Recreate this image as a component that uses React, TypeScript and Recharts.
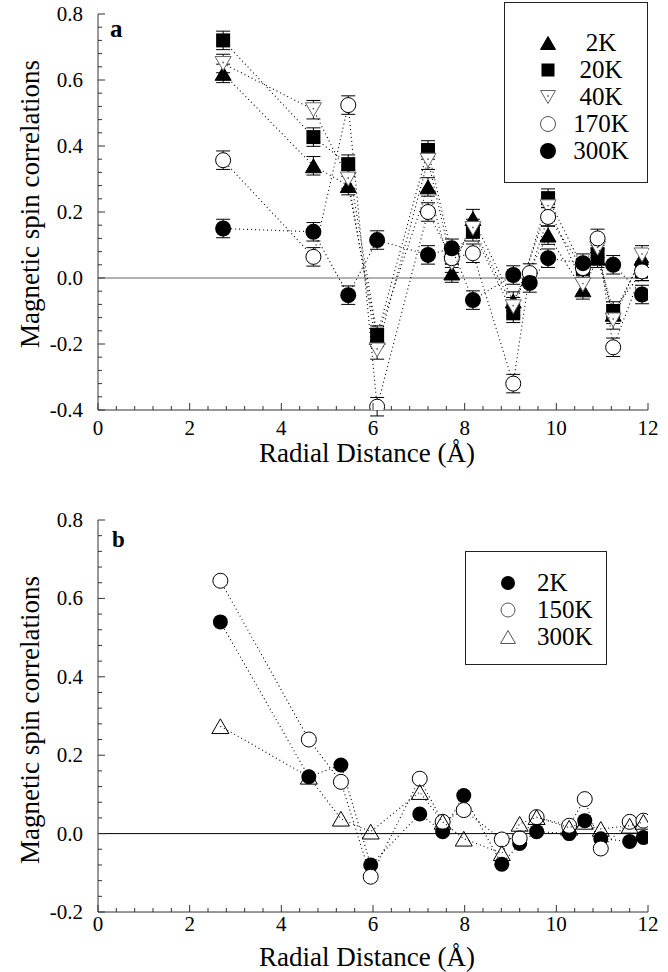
import React from 'react';
import { ScatterChart, Scatter, XAxis, YAxis, ReferenceLine, ErrorBar } from 'recharts';

const FONT = '"Liberation Serif", "Times New Roman", Times, serif';

// ---- tick labels ----
const X_TICKS = [0, 2, 4, 6, 8, 10, 12];
const Y_TICKS_A = [-0.4, -0.2, 0, 0.2, 0.4, 0.6, 0.8];
const Y_TICKS_B = [-0.2, 0, 0.2, 0.4, 0.6, 0.8];
const X_MINOR_STEP = 0.4;
const Y_MINOR_STEP = 0.04;

// ---- panel a data ----
const A_DIST = [2.73, 4.7, 5.46, 6.09, 7.2, 7.72, 8.18, 9.06, 9.42, 9.82, 10.58, 10.9, 11.24, 11.87];
const A_2K = [0.62, 0.34, 0.28, -0.18, 0.276, 0.015, 0.18, -0.07, null, 0.13, -0.036, 0.06, -0.11, 0.06];
const A_20K = [0.72, 0.427, 0.345, -0.173, 0.388, 0.07, 0.14, -0.107, null, 0.242, 0.03, 0.07, -0.1, 0.02];
const A_40K = [0.65, 0.51, 0.3, -0.218, 0.357, 0.045, 0.15, -0.087, null, 0.216, -0.02, 0.09, -0.127, 0.07];
const A_170K = [0.357, 0.064, 0.524, -0.39, 0.2, 0.06, 0.075, -0.32, 0.015, 0.185, 0.03, 0.12, -0.21, 0.02];
const A_300K = [0.15, 0.14, -0.052, 0.115, 0.07, 0.09, -0.067, 0.009, -0.015, 0.06, 0.045, null, 0.04, -0.05];
const A_ERR = 0.028;
const A_NAMES = ['2K', '20K', '40K', '170K', '300K'];

// ---- panel b data ----
const B_DIST = [2.67, 4.6, 5.3, 5.95, 7.02, 7.52, 7.98, 8.81, 9.2, 9.57, 10.28, 10.62, 10.97, 11.6, 11.9];
const B_2K = [0.54, 0.145, 0.175, -0.08, 0.05, 0.005, 0.097, -0.078, -0.025, 0.005, 0.0, 0.033, -0.013, -0.02, -0.01];
const B_150K = [0.645, 0.24, 0.132, -0.11, 0.14, 0.03, 0.06, -0.015, -0.012, 0.042, 0.02, 0.088, -0.038, 0.03, 0.033];
const B_300K = [0.274, 0.145, 0.038, 0.005, 0.106, 0.03, -0.013, -0.05, 0.025, 0.042, 0.015, 0.03, 0.012, 0.02, 0.03];
const B_NAMES = ['2K', '150K', '300K'];

type Kind = 'triUp' | 'square' | 'triDown' | 'circleOpen' | 'circleFilled' | 'triOpen';

function pts(xs: number[], ys: (number | null)[], err?: number) {
  const out: any[] = [];
  xs.forEach((x, i) => {
    const y = ys[i];
    if (y !== null && y !== undefined) out.push({ x, y, err });
  });
  return out;
}

function range(lo: number, hi: number, step: number) {
  const n = Math.round((hi - lo) / step);
  const out: number[] = [];
  for (let i = 0; i <= n; i++) out.push(Math.round((lo + i * step) * 1000) / 1000);
  return out;
}

function isIn(list: number[], v: number) {
  return list.some((m) => Math.abs(m - v) < 1e-6);
}

function Marker({ kind, cx, cy, s, grey }: { kind: Kind; cx: number; cy: number; s: number; grey?: boolean }) {
  const h = s * 0.866;
  const st = grey ? '#555' : '#000';
  switch (kind) {
    case 'triUp':
      return <polygon points={`${cx},${cy - h / 2} ${cx - s / 2},${cy + h / 2} ${cx + s / 2},${cy + h / 2}`} fill="#000" stroke="#000" />;
    case 'triOpen':
      return <polygon points={`${cx},${cy - h / 2} ${cx - s / 2},${cy + h / 2} ${cx + s / 2},${cy + h / 2}`} fill="none" stroke={st} strokeWidth={1} />;
    case 'triDown':
      return (
        <g>
          <polygon points={`${cx},${cy + h / 2} ${cx - s / 2},${cy - h / 2} ${cx + s / 2},${cy - h / 2}`} fill="#fff" stroke="#666" strokeWidth={1} />
          <circle cx={cx} cy={cy - 1} r={0.9} fill="#666" />
        </g>
      );
    case 'square':
      return <rect x={cx - s / 2} y={cy - s / 2} width={s} height={s} fill="#000" />;
    case 'circleOpen':
      return <circle cx={cx} cy={cy} r={s / 2} fill="#fff" stroke={st} strokeWidth={1} />;
    case 'circleFilled':
    default:
      return <circle cx={cx} cy={cy} r={s / 2} fill="#000" />;
  }
}

const shapeOf = (kind: Kind, s: number) => (p: any) => <Marker kind={kind} cx={p.cx} cy={p.cy} s={s} />;

const LINE = { stroke: '#000', strokeWidth: 1.1, strokeDasharray: '1 3' };
const FRAME = '#333';

const xTick = (showLabel: boolean, dir: number, labelDy: number) => (props: any) => {
  const { x, y, payload } = props;
  const v = payload.value;
  const major = isIn(X_TICKS, v);
  const len = major ? 7 : 4;
  return (
    <g>
      <line x1={x} x2={x} y1={y} y2={y + dir * len} stroke={FRAME} strokeWidth={1} />
      {showLabel && major ? (
        <text x={x} y={y + labelDy} textAnchor="middle" fontFamily={FONT} fontSize={21} fill="#000">
          {String(v)}
        </text>
      ) : null}
    </g>
  );
};

const yTick = (majors: number[], showLabel: boolean, dir: number) => (props: any) => {
  const { x, y, payload } = props;
  const v = payload.value;
  const major = isIn(majors, v);
  const len = major ? 7 : 4;
  return (
    <g>
      <line x1={x} x2={x + dir * len} y1={y} y2={y} stroke={FRAME} strokeWidth={1} />
      {showLabel && major ? (
        <text x={x - 15} y={y} dy={7} textAnchor="end" fontFamily={FONT} fontSize={21} fill="#000">
          {v.toFixed(1)}
        </text>
      ) : null}
    </g>
  );
};

const X_ALL = range(0, 12, X_MINOR_STEP);
const Y_ALL_A = range(-0.4, 0.8, Y_MINOR_STEP);
const Y_ALL_B = range(-0.2, 0.8, Y_MINOR_STEP);

function Axes({ yTicksAll, yMajors, yDomain, xLabelDy }: any) {
  return [
    <XAxis key="xb" type="number" dataKey="x" domain={[0, 12]} ticks={X_ALL} interval={0} tickSize={0} tickMargin={0} tickLine={false} axisLine={{ stroke: FRAME }} height={60} tick={xTick(true, -1, xLabelDy)} allowDataOverflow />,
    <XAxis key="xt" xAxisId="top" orientation="top" type="number" domain={[0, 12]} ticks={X_ALL} interval={0} tickSize={0} tickMargin={0} tickLine={false} axisLine={{ stroke: FRAME }} height={0} tick={xTick(false, 1, 0)} allowDataOverflow />,
    <YAxis key="yl" type="number" dataKey="y" domain={yDomain} ticks={yTicksAll} interval={0} tickSize={0} tickMargin={0} tickLine={false} axisLine={{ stroke: FRAME }} width={98} tick={yTick(yMajors, true, 1)} allowDataOverflow />,
    <YAxis key="yr" yAxisId="right" orientation="right" type="number" domain={yDomain} ticks={yTicksAll} interval={0} tickSize={0} tickMargin={0} tickLine={false} axisLine={{ stroke: FRAME }} width={0} tick={yTick(yMajors, false, -1)} allowDataOverflow />,
  ];
}

function LegendIcon({ kind, s }: { kind: Kind; s: number }) {
  return (
    <svg width={22} height={22} style={{ position: 'absolute', left: -11, top: -11, overflow: 'visible' }}>
      <Marker kind={kind} cx={11} cy={11} s={s} grey />
    </svg>
  );
}

function LegendBox({ left, top, width, height, rows, iconX, textX, textCenter }: any) {
  return (
    <div style={{ position: 'absolute', left, top, width, height, border: '1px solid #222', boxSizing: 'border-box', background: '#fff' }}>
      {rows.map((r: any, i: number) => (
        <React.Fragment key={i}>
          <div style={{ position: 'absolute', left: iconX, top: r.y }}>
            <LegendIcon kind={r.kind} s={r.s} />
          </div>
          <div
            style={{
              position: 'absolute',
              left: textCenter ? textX - 40 : textX,
              width: textCenter ? 80 : undefined,
              textAlign: textCenter ? 'center' : 'left',
              top: r.y - 15,
              height: 30,
              lineHeight: '30px',
              fontFamily: FONT,
              fontSize: 25,
              color: '#000',
              whiteSpace: 'nowrap',
            }}
          >
            {r.label}
          </div>
        </React.Fragment>
      ))}
    </div>
  );
}

export default function App() {
  const aKinds: Kind[] = ['triUp', 'square', 'triDown', 'circleOpen', 'circleFilled'];
  const aSizes = [16, 14, 16, 15, 16];
  const aSeries = [A_2K, A_20K, A_40K, A_170K, A_300K];
  const bKinds: Kind[] = ['circleFilled', 'circleOpen', 'triOpen'];
  const bSizes = [15, 15, 17];
  const bSeries = [B_2K, B_150K, B_300K];

  return (
    <div style={{ position: 'absolute', left: 0, top: 0, width: 668, height: 972, background: '#fff', overflow: 'hidden' }}>
      <div style={{ position: 'absolute', left: 0, top: 0 }}>
        <ScatterChart width={668} height={470} margin={{ top: 14, right: 20, bottom: 0, left: 0 }}>
          {Axes({ yTicksAll: Y_ALL_A, yMajors: Y_TICKS_A, yDomain: [-0.4, 0.8], xLabelDy: 25 })}
          <ReferenceLine y={0} stroke="#666" strokeWidth={1} />
          {aSeries.map((ys, i) => (
            <Scatter
              key={A_NAMES[i]}
              name={A_NAMES[i]}
              data={pts(A_DIST, ys, A_ERR)}
              line={LINE}
              shape={shapeOf(aKinds[i], aSizes[i])}
              isAnimationActive={false}
            >
              <ErrorBar dataKey="err" direction="y" width={7} stroke="#000" strokeWidth={1} isAnimationActive={false} />
            </Scatter>
          ))}
        </ScatterChart>
      </div>
      <div style={{ position: 'absolute', left: 0, top: 486 }}>
        <ScatterChart width={668} height={486} margin={{ top: 34, right: 20, bottom: 0, left: 0 }}>
          {Axes({ yTicksAll: Y_ALL_B, yMajors: Y_TICKS_B, yDomain: [-0.2, 0.8], xLabelDy: 19 })}
          <ReferenceLine y={0} stroke="#000" strokeWidth={1} />
          {bSeries.map((ys, i) => (
            <Scatter
              key={B_NAMES[i]}
              name={B_NAMES[i]}
              data={pts(B_DIST, ys)}
              line={LINE}
              shape={shapeOf(bKinds[i], bSizes[i])}
              isAnimationActive={false}
            />
          ))}
        </ScatterChart>
      </div>

      <svg width={668} height={972} style={{ position: 'absolute', left: 0, top: 0, pointerEvents: 'none' }}>
        <text x={110} y={37} fontFamily={FONT} fontWeight="bold" fontSize={25} fill="#000">a</text>
        <text x={112} y={547} fontFamily={FONT} fontWeight="bold" fontSize={23} fill="#000">b</text>
        <text x={367} y={462} textAnchor="middle" fontFamily={FONT} fontSize={27} fill="#000">Radial Distance (Å)</text>
        <text x={367} y={966} textAnchor="middle" fontFamily={FONT} fontSize={27} fill="#000">Radial Distance (Å)</text>
        <text transform="translate(39,204) rotate(-90)" textAnchor="middle" fontFamily={FONT} fontSize={27} fill="#000">Magnetic spin correlations</text>
        <text transform="translate(39,720) rotate(-90)" textAnchor="middle" fontFamily={FONT} fontSize={27} fill="#000">Magnetic spin correlations</text>
      </svg>

      <LegendBox
        left={504}
        top={2}
        width={144}
        height={181}
        iconX={43}
        textX={96}
        textCenter
        rows={A_NAMES.map((n, i) => ({ label: n, kind: aKinds[i], s: [15, 13, 15, 15, 16][i], y: 40 + i * 27 }))}
      />
      <LegendBox
        left={465}
        top={551}
        width={142}
        height={114}
        iconX={42}
        textX={71}
        rows={B_NAMES.map((n, i) => ({ label: n, kind: bKinds[i], s: [14, 14, 15][i], y: 31 + i * 27 }))}
      />
    </div>
  );
}
